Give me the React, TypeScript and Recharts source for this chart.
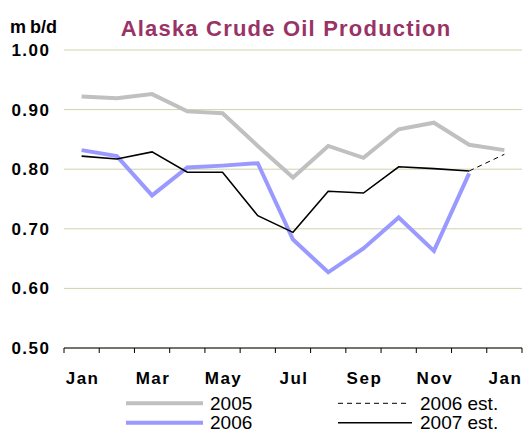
import React from 'react';
import { LineChart, Line, XAxis, YAxis, CartesianGrid, Legend } from 'recharts';

// ---- data ----
const months = ['Jan', 'Feb', 'Mar', 'Apr', 'May', 'Jun', 'Jul', 'Aug', 'Sep', 'Oct', 'Nov', 'Dec', 'Jan'];
const prod2005 = [0.922, 0.919, 0.926, 0.897, 0.894, 0.839, 0.786, 0.839, 0.819, 0.867, 0.878, 0.841, 0.832];
const prod2006 = [0.832, 0.822, 0.756, 0.803, 0.806, 0.810, 0.682, 0.627, 0.667, 0.719, 0.663, 0.793, null];
const est2006 = [null, null, null, null, null, null, null, null, null, null, null, 0.797, 0.825];
const est2007 = [0.822, 0.817, 0.829, 0.795, 0.795, 0.722, 0.694, 0.763, 0.760, 0.804, 0.801, 0.797, null];
const yTicks = [0.5, 0.6, 0.7, 0.8, 0.9, 1.0];
const xBoundaries = [0, 1, 2, 3, 4, 5, 6, 7, 8, 9, 10, 11, 12, 13];

const data = months.map((m, i) => ({
  x: i + 0.5,
  month: m,
  p2005: prod2005[i],
  p2006: prod2006[i],
  e2006: est2006[i],
  e2007: est2007[i],
}));

// ---- layout ----
const W = 529;
const H = 430;
const MARGIN = { top: 50, right: 7, left: 0, bottom: 52 };
const Y_W = 64;
const X_H = 30;
const PLOT_W = W - MARGIN.left - MARGIN.right - Y_W;
const HALF_BAND = PLOT_W / months.length / 2;
const FONT = 'Arial, "Liberation Sans", sans-serif';

const XTick = (props: any) => {
  const { x, y, payload } = props;
  const i = payload.value;
  if (i % 2 !== 0 || i >= months.length) return null;
  return (
    <text x={x + HALF_BAND + 1} y={y + 29} textAnchor="middle" fontFamily={FONT} fontWeight="bold" fontSize={17} letterSpacing={1.5} fill="#000">
      {months[i]}
    </text>
  );
};

const YTick = (props: any) => {
  const { x, y, payload } = props;
  return (
    <text x={x + 1.5} y={y + 6} textAnchor="end" fontFamily={FONT} fontWeight="bold" fontSize={17} letterSpacing={1.5} fill="#000">
      {Number(payload.value).toFixed(2)}
    </text>
  );
};

const LEGEND_TOP = 388;
const legendLayout: Record<string, { x1: number; x2: number; tx: number; row: number }> = {
  '2005': { x1: 126, x2: 203, tx: 210, row: 0 },
  '2006': { x1: 126, x2: 203, tx: 210, row: 1 },
  '2006 est.': { x1: 338, x2: 408, tx: 420, row: 0 },
  '2007 est.': { x1: 338, x2: 412, tx: 420, row: 1 },
};

const renderLegend = (props: any) => {
  const payload = props.payload || [];
  return (
    <svg width={W} height={H - LEGEND_TOP} style={{ display: 'block', overflow: 'visible' }}>
      {payload.map((p: any) => {
        const name = String(p.value);
        const l = legendLayout[name];
        if (!l) return null;
        const ly = 15.3 + l.row * 19.5;
        const sw = p.payload?.strokeWidth ?? 1;
        const dash = p.payload?.strokeDasharray;
        return (
          <g key={name}>
            <line x1={l.x1} x2={l.x2} y1={ly} y2={ly} stroke={p.color} strokeWidth={sw} strokeDasharray={dash} />
            <text x={l.tx} y={ly + 6.5} fontFamily={FONT} fontSize={19} fill="#000">
              {name}
            </text>
          </g>
        );
      })}
    </svg>
  );
};

export default function App() {
  return (
    <div style={{ position: 'absolute', left: 0, top: 0, width: W, height: H, background: '#fff' }}>
      <LineChart width={W} height={H} data={data} margin={MARGIN}>
        <CartesianGrid horizontal vertical={false} stroke="#d2d2aa" strokeWidth={1} />
        <XAxis
          dataKey="x"
          type="number"
          domain={[0, months.length]}
          ticks={xBoundaries}
          interval={0}
          height={X_H}
          axisLine={{ stroke: '#000', strokeWidth: 1 }}
          tickLine={{ stroke: '#000', strokeWidth: 1 }}
          tickSize={5}
          tick={<XTick />}
        />
        <YAxis
          type="number"
          domain={[0.5, 1.0]}
          ticks={yTicks}
          width={Y_W}
          axisLine={false}
          tickLine={false}
          tickSize={0}
          tickMargin={15}
          tick={<YTick />}
          allowDataOverflow
        />
        <Legend
          layout="horizontal"
          verticalAlign="middle"
          align="center"
          content={renderLegend}
          wrapperStyle={{ position: 'absolute', top: LEGEND_TOP, left: 0, width: W, height: H - LEGEND_TOP }}
        />
        <Line name="2005" dataKey="p2005" stroke="#c0c0c0" strokeWidth={4} dot={false} activeDot={false} isAnimationActive={false} />
        <Line name="2006" dataKey="p2006" stroke="#9999ff" strokeWidth={4} dot={false} activeDot={false} isAnimationActive={false} />
        <Line name="2006 est." dataKey="e2006" stroke="#000" strokeWidth={1} strokeDasharray="5 4" dot={false} activeDot={false} isAnimationActive={false} />
        <Line name="2007 est." dataKey="e2007" stroke="#000" strokeWidth={1.6} dot={false} activeDot={false} isAnimationActive={false} />
      </LineChart>
      <svg width={W} height={50} style={{ position: 'absolute', left: 0, top: 0, pointerEvents: 'none' }}>
        <text x={10} y={33} fontFamily={FONT} fontWeight="bold" fontSize={18} fill="#000">
          <tspan>m</tspan>
          <tspan dx={4}>b/d</tspan>
        </text>
        <text x={286} y={36} textAnchor="middle" fontFamily={FONT} fontWeight="bold" fontSize={22} letterSpacing={1.2} fill="#993366">
          Alaska Crude Oil Production
        </text>
      </svg>
    </div>
  );
}
